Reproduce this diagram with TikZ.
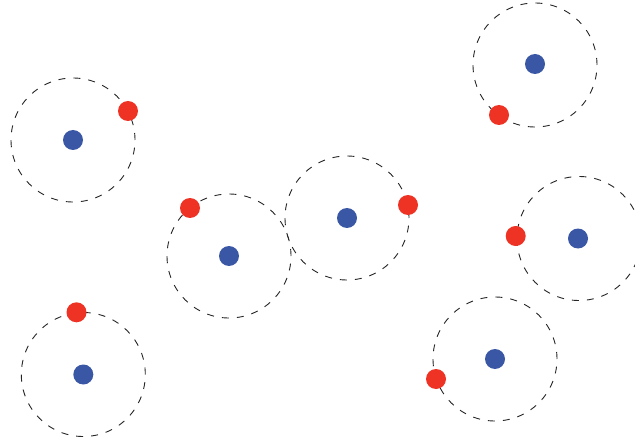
\documentclass[tikz,border=0pt]{standalone}
\definecolor{dotblue}{HTML}{3A57A6}
\definecolor{dotred}{HTML}{EE3224}
\begin{document}
\begin{tikzpicture}[x=1pt,y=-1pt,
  orbit/.style={circle,draw=black!85,line width=0.9pt,dash pattern=on 7pt off 8pt,minimum size=124pt,inner sep=0pt},
  core/.style={circle,fill=dotblue,minimum size=20pt,inner sep=0pt},
  electron/.style={circle,fill=dotred,minimum size=20pt,inner sep=0pt}]
\useasboundingbox (0,0) rectangle (635,441);
\fill[white] (0,0) rectangle (635,441);
% 1
\node[orbit] (o1) at (73,140) {};
\node[core] (c1) at (73,140) {};
\node[electron] (e1) at (128,111) {};
% 2
\node[orbit] (o2) at (535,65) {};
\node[core] (c2) at (535,64) {};
\node[electron] (e2) at (499,115) {};
% 3
\node[orbit] (o3) at (229,256) {};
\node[core] (c3) at (229,256) {};
\node[electron] (e3) at (190,208) {};
% 4
\node[orbit] (o4) at (347,218) {};
\node[core] (c4) at (347,218) {};
\node[electron] (e4) at (408,205) {};
% 5
\node[orbit] (o5) at (579,238.5) {};
\node[core] (c5) at (578,238.5) {};
\node[electron] (e5) at (515.7,236) {};
% 6
\node[orbit] (o6) at (83.3,374.5) {};
\node[core] (c6) at (83.3,374.5) {};
\node[electron] (e6) at (76.5,312.3) {};
% 7
\node[orbit] (o7) at (495,359) {};
\node[core] (c7) at (495,359) {};
\node[electron] (e7) at (436,379) {};
\end{tikzpicture}
\end{document}
